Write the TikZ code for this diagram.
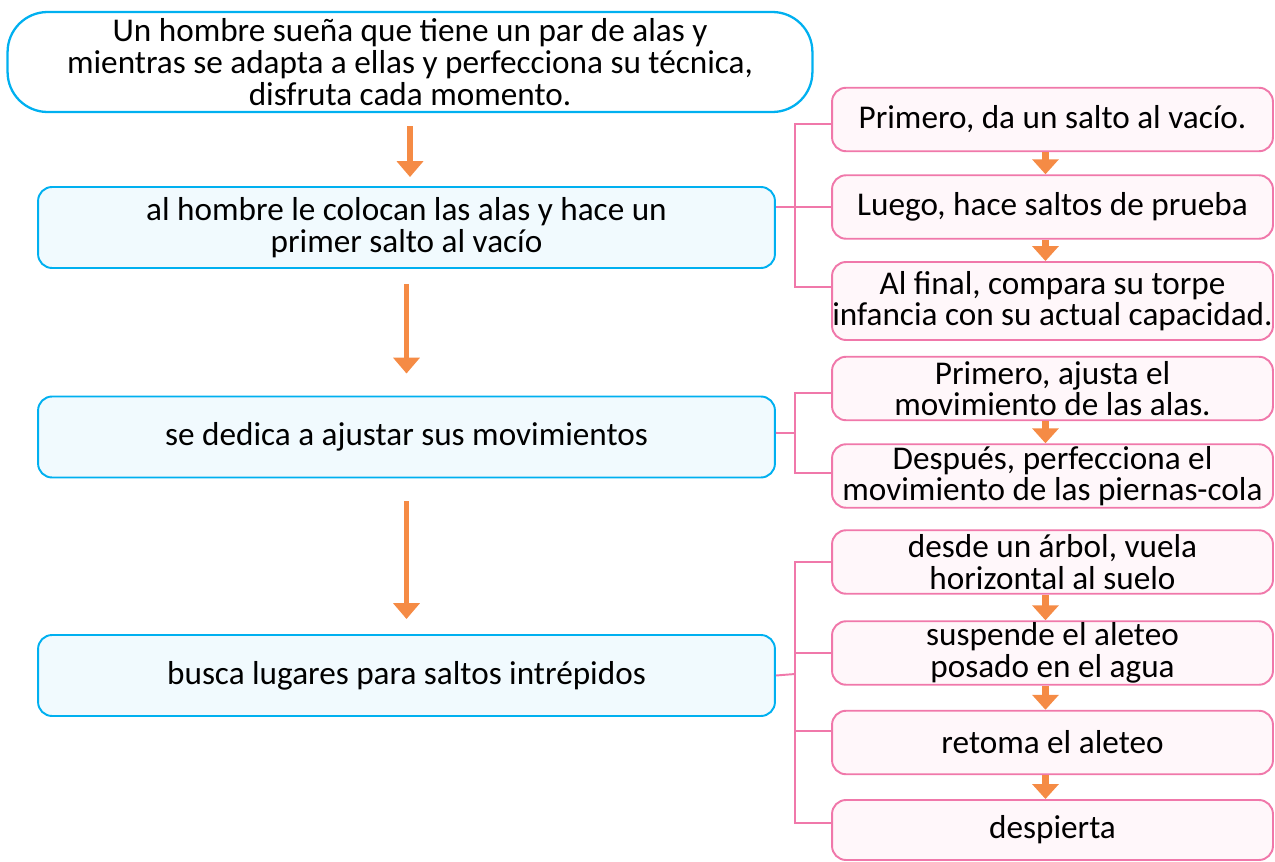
\documentclass[tikz,border=0pt]{standalone}
\usepackage{fontspec}
\setmainfont{Carlito}
\usepackage{xcolor}
\usetikzlibrary{arrows.meta,positioning,calc}
\definecolor{boxcyan}{RGB}{0,176,240}
\definecolor{boxblue}{RGB}{241,250,254}
\definecolor{boxpink}{RGB}{240,120,170}
\definecolor{lightpink}{RGB}{255,247,250}
\definecolor{arroworange}{RGB}{245,139,69}

\begin{document}
\begin{tikzpicture}[x=0.02cm,y=-0.02cm,
	font=\fontsize{18.9}{18}\selectfont,
	idea node/.style={rectangle,rounded corners=0.8cm,draw=boxcyan,line width=1.3pt,fill=white,
		align=center,inner sep=0pt,minimum width=16.1cm,minimum height=2cm},
	main node/.style={rectangle,rounded corners=0.28cm,draw=boxcyan,line width=1.1pt,fill=boxblue,
		align=center,inner sep=0pt,minimum width=14.74cm,minimum height=1.62cm},
	sub node/.style={rectangle,rounded corners=0.28cm,draw=boxpink,line width=1.1pt,fill=lightpink,
		align=center,inner sep=0pt,minimum width=8.82cm,minimum height=1.27cm},
	big arrow/.style={-{Triangle[width=14.7pt,length=9pt]},line width=3.4pt,draw=arroworange},
	small arrow/.style={-{Triangle[width=14.7pt,length=8.5pt]},line width=4pt,draw=arroworange},
	bracket/.style={draw=boxpink,line width=1.1pt}]

    \useasboundingbox (0,0) rectangle (1275,862);

    \node[idea node] (S) at (410,62) {Un hombre sueña que tiene un par de alas y\\
        mientras se adapta a ellas y perfecciona su técnica,\\ disfruta cada momento.};
    \node[main node] (P1) at (406.5,227.5) {al hombre le colocan las alas y hace un\\ primer salto al vacío};
    \node[main node] (P2) at (406.5,437) {se dedica a ajustar sus movimientos};
    \node[main node] (P3) at (406.5,675.5) {busca lugares para saltos intrépidos};

    \node[sub node] (P1a) at (1052.5,119.5) {Primero, da un salto al vacío.};
    \node[sub node] (P1b) at (1052.5,207) {Luego, hace saltos de prueba};
    \node[sub node,minimum height=1.56cm] (P1c) at (1052.5,301) {Al final, compara su torpe\\ infancia con su actual capacidad.};
    \node[sub node] (P2a) at (1052.5,388.5) {Primero, ajusta el\\ movimiento de las alas.};
    \node[sub node] (P2b) at (1052.5,476) {Después, perfecciona el\\ movimiento de las piernas-cola};
    \node[sub node] (P3a) at (1052.5,562) {desde un árbol, vuela\\ horizontal al suelo};
    \node[sub node] (P3b) at (1052.5,653) {suspende el aleteo\\ posado en el agua};
    \node[sub node] (P3c) at (1052.5,742.5) {retoma el aleteo};
    \node[sub node,minimum height=1.2cm] (P3d) at (1052.5,830) {despierta};

    % main flow
    \draw[big arrow,shorten <=0.26cm,shorten >=0.18cm] (S.south) -- (S.south |- P1.north);
    \draw[big arrow,shorten <=0.3cm,shorten >=0.44cm] (P1.south) -- (P2.north);
    \draw[big arrow,shorten <=0.46cm,shorten >=0.3cm] (P2.south) -- (P3.north);

    % steps on the right
    \foreach \u/\v in {P1a/P1b,P1b/P1c,P2a/P2b,P3a/P3b,P3b/P3c,P3c/P3d}
        \draw[small arrow] ([xshift=-4pt]\u.south) -- ([xshift=-4pt]\v.north);

    % brackets
    \coordinate (J1) at (795,207);
    \coordinate (J2) at (795,433);
    \coordinate (J3) at (795,674);
    \draw[bracket] (P1.east |- P1b.west) -- (P1b.west);
    \draw[bracket] ([yshift=-2.8pt]P1a.west) -| (J1);
    \draw[bracket] ([yshift=7.9pt]P1c.west) -| (J1);
    \draw[bracket] ([yshift=2.3pt]P2.east) -- (J2);
    \draw[bracket] ([yshift=-2.6pt]P2a.west) -| (J2);
    \draw[bracket] ([yshift=1.7pt]P2b.west) -| (J2);
    \draw[bracket] (P3.east) -- (J3);
    \draw[bracket] (P3a.west) -| (J3);
    \draw[bracket] (P3b.west) -| (J3);
    \draw[bracket] ([yshift=6.5pt]P3c.west) -| (J3);
    \draw[bracket] ([yshift=4pt]P3d.west) -| (J3);

\end{tikzpicture}
\end{document}
